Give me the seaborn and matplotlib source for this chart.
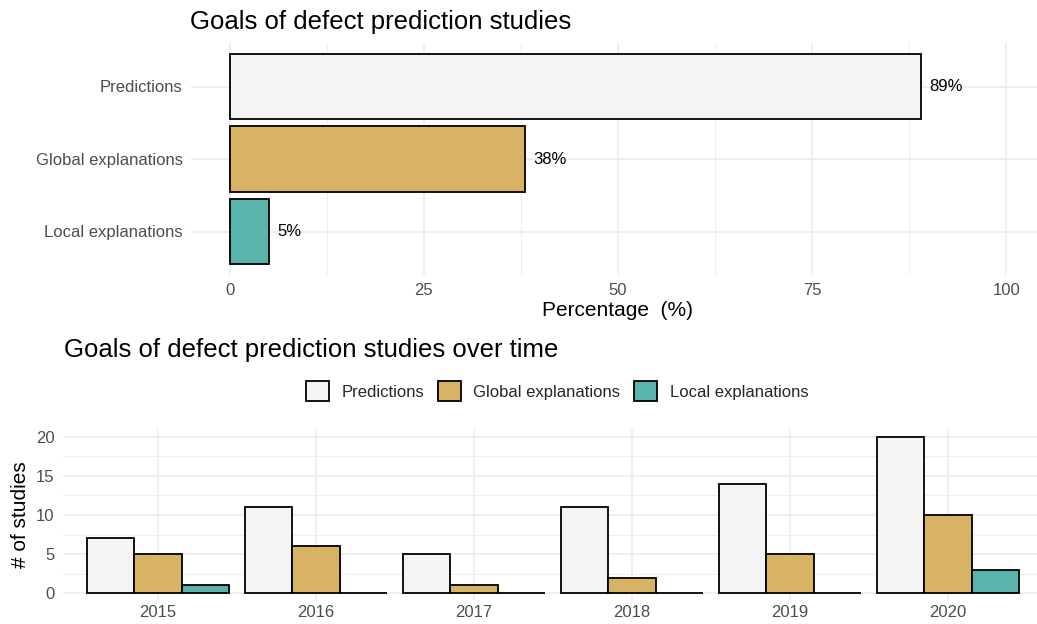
import matplotlib
matplotlib.use("Agg")
import matplotlib.pyplot as plt
from matplotlib.patches import Patch
from matplotlib.ticker import MultipleLocator
import seaborn as sns
import pandas as pd

# ---- data ----
goals = ["Predictions", "Global explanations", "Local explanations"]
goal_pct = [89, 38, 5]
years = ["2015", "2016", "2017", "2018", "2019", "2020"]
pred_counts = [7, 11, 5, 11, 14, 20]
global_counts = [5, 6, 1, 2, 5, 10]
local_counts = [1, 0, 0, 0, 0, 3]
colors = ["#F4F4F4", "#D8B365", "#5AB4AC"]

sns.set_theme(style="white")
plt.rcParams["font.family"] = ["Liberation Sans", "DejaVu Sans"]

W, H = 1037, 624
fig = plt.figure(figsize=(W / 100, H / 100), dpi=100)

def px_axes(l, t, r, b):
    return fig.add_axes([l / W, 1 - b / H, (r - l) / W, (b - t) / H])

grid_c = "#EBEBEB"
tick_c = "#4D4D4D"
edge_w = 1.3

# ---- top panel ----
ax1 = px_axes(191, 43, 1045, 275)
df1 = pd.DataFrame({"goal": goals, "pct": goal_pct})
sns.barplot(data=df1, x="pct", y="goal", hue="goal", order=goals, hue_order=goals,
            palette=colors, saturation=1, edgecolor="black", linewidth=edge_w,
            width=0.9, legend=False, ax=ax1, zorder=3)
for c in ax1.containers:
    ax1.bar_label(c, labels=[f"{int(round(v))}%" for v in c.datavalues], padding=6,
                  fontsize=12, color="black")
ax1.set_xlim(-5, 105)
ax1.set_ylim(2.6, -0.6)
ax1.set_xticks([0, 25, 50, 75, 100])
ax1.xaxis.set_minor_locator(MultipleLocator(12.5))
ax1.grid(True, which="major", axis="both", color=grid_c, linewidth=1.1, zorder=0)
ax1.grid(True, which="minor", axis="x", color=grid_c, linewidth=0.6, zorder=0)
ax1.set_axisbelow(True)
ax1.set_xlabel("Percentage  (%)", fontsize=15, color="black", labelpad=2)
ax1.set_ylabel("")
ax1.tick_params(axis="both", which="both", length=0, labelsize=12, labelcolor=tick_c)
ax1.tick_params(axis="x", pad=6)
ax1.tick_params(axis="y", pad=6)
for s in ax1.spines.values():
    s.set_visible(False)
fig.text(190 / W, 1 - 29 / H, "Goals of defect prediction studies", fontsize=18.5,
         ha="left", va="baseline", color="black")

# ---- bottom panel ----
ax2 = px_axes(63, 429, 1043, 601)
df2 = pd.DataFrame({
    "year": years * 3,
    "count": pred_counts + global_counts + local_counts,
    "goal": [goals[0]] * len(years) + [goals[1]] * len(years) + [goals[2]] * len(years),
})
sns.barplot(data=df2, x="year", y="count", hue="goal", order=years, hue_order=goals,
            palette=colors, saturation=1, edgecolor="black", linewidth=edge_w,
            width=0.9, gap=0, legend=False, ax=ax2, zorder=3)
ax2.set_xlim(-0.6, 5.6)
ax2.set_ylim(-1, 21)
ax2.set_yticks([0, 5, 10, 15, 20])
ax2.yaxis.set_minor_locator(MultipleLocator(2.5))
ax2.grid(True, which="major", axis="both", color=grid_c, linewidth=1.1, zorder=0)
ax2.grid(True, which="minor", axis="y", color=grid_c, linewidth=0.6, zorder=0)
ax2.set_axisbelow(True)
ax2.set_xlabel("")
ax2.set_ylabel("# of studies", fontsize=15, color="black", labelpad=4)
ax2.tick_params(axis="both", which="both", length=0, labelsize=12, labelcolor=tick_c)
ax2.tick_params(axis="x", pad=3)
ax2.tick_params(axis="y", pad=6)
for s in ax2.spines.values():
    s.set_visible(False)
fig.text(64 / W, 1 - 357 / H, "Goals of defect prediction studies over time",
         fontsize=18.5, ha="left", va="baseline", color="black")

handles = [Patch(facecolor=c, edgecolor="black", linewidth=edge_w, label=g)
           for c, g in zip(colors, goals)]
fig.legend(handles=handles, loc="center", bbox_to_anchor=(557 / W, 1 - 391 / H),
           ncol=3, frameon=False, fontsize=12, handlelength=1.4, handleheight=1.4,
           handletextpad=0.75, columnspacing=0.8, borderpad=0)

fig.savefig("out.png", dpi=100)
